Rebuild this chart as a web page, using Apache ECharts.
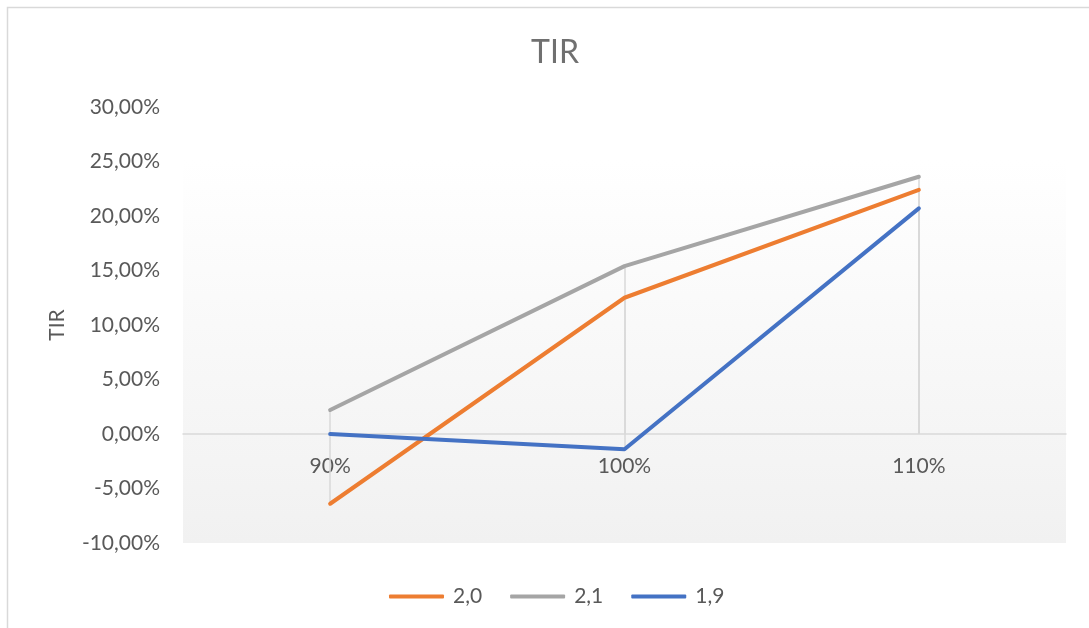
<!DOCTYPE html>
<html>
<head>
<meta charset="utf-8">
<title>TIR</title>
<script src="https://cdn.jsdelivr.net/npm/echarts@6/dist/echarts.min.js"></script>
<style>
  html, body { margin: 0; padding: 0; background: #fff; }
  #chart { width: 1089px; height: 628px; }
</style>
</head>
<body>
<div id="chart"></div>
<script>
const categories = ['90%', '100%', '110%'];
const seriesNames = ['2,0', '2,1', '1,9'];
const tir20 = [-6.4, 12.5, 22.4];
const tir21 = [2.2, 15.4, 23.6];
const tir19 = [0.0, -1.4, 20.7];
const yTicks = [-10, -5, 0, 5, 10, 15, 20, 25, 30];

const colors = ['#ED7D31', '#A5A5A5', '#4472C4'];
const textColor = '#595959';
const font = 'Lato';

// drop lines: from each point down (or up) to the zero axis
function dropLines(values) {
  return values.map((v, i) => [{ coord: [i, v] }, { coord: [i, 0] }]);
}

function makeSeries(name, values, color) {
  return {
    name: name,
    type: 'line',
    data: values,
    symbol: 'none',
    lineStyle: { color: color, width: 4, cap: 'round', join: 'round' },
    itemStyle: { color: color },
    z: 3,
    markLine: {
      silent: true,
      symbol: 'none',
      label: { show: false },
      lineStyle: { color: '#d9d9d9', width: 1.5, type: 'solid' },
      data: dropLines(values),
      z: 1,
      animation: false,
    },
  };
}

const chart = echarts.init(document.getElementById('chart'));
chart.setOption({
  animation: false,
  title: {
    text: 'TIR',
    left: 550,
    top: 32,
    textAlign: 'center',
    textStyle: { color: '#707070', fontSize: 32, fontWeight: 'normal', fontFamily: font },
  },
  graphic: [
    {
      type: 'polyline',
      shape: { points: [[7.5, 628], [7.5, 7.5], [1089, 7.5]] },
      style: { stroke: '#d9d9d9', lineWidth: 1.5, fill: null },
      silent: true,
    },
  ],
  legend: {
    bottom: 16,
    left: 384,
    icon: 'roundRect',
    itemWidth: 55,
    itemHeight: 4,
    itemGap: 28,
    textStyle: { color: textColor, fontSize: 21, fontFamily: font, padding: [0, 0, 0, 4] },
    data: seriesNames,
  },
  grid: {
    left: 183,
    right: 23,
    top: 107,
    bottom: 85,
    show: true,
    borderWidth: 0,
    backgroundColor: new echarts.graphic.LinearGradient(0, 0, 0, 1, [
      { offset: 0, color: '#ffffff' },
      { offset: 0.12, color: '#ffffff' },
      { offset: 1, color: '#f1f1f1' },
    ]),
  },
  xAxis: {
    type: 'category',
    data: categories,
    boundaryGap: true,
    axisLine: { show: true, onZero: true, lineStyle: { color: '#d9d9d9', width: 1.5 } },
    axisTick: { show: false },
    // labels sit just under the zero line, like the reference
    axisLabel: { color: textColor, fontSize: 21, fontFamily: font, margin: -87 },
    splitLine: { show: false },
  },
  yAxis: {
    type: 'value',
    min: yTicks[0],
    max: yTicks[yTicks.length - 1],
    interval: 5,
    name: 'TIR',
    nameLocation: 'middle',
    nameGap: 115,
    nameRotate: 90,
    nameTextStyle: { color: textColor, fontSize: 21, fontFamily: font },
    axisLine: { show: false },
    axisTick: { show: false },
    splitLine: { show: false },
    axisLabel: {
      color: textColor,
      fontSize: 21,
      fontFamily: font,
      margin: 23,
      formatter: (v) => v.toFixed(2).replace('.', ',') + '%',
    },
  },
  series: [
    makeSeries(seriesNames[0], tir20, colors[0]),
    makeSeries(seriesNames[1], tir21, colors[1]),
    makeSeries(seriesNames[2], tir19, colors[2]),
  ],
});
</script>
</body>
</html>
